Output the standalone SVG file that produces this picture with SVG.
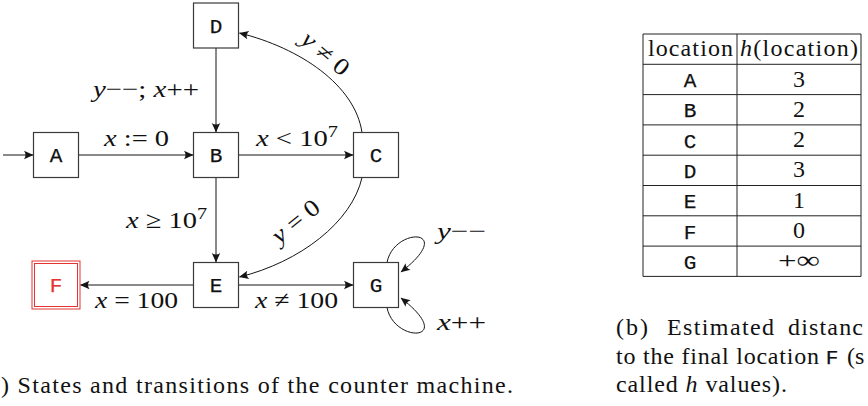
<svg xmlns="http://www.w3.org/2000/svg" width="868" height="406" viewBox="0 0 868 406">
<style>
.box{fill:none;stroke:#3a3a3a;stroke-width:1.2}
.fbox{fill:none;stroke:#e3342f;stroke-width:1}
.edge{fill:none;stroke:#151515;stroke-width:1;marker-end:url(#arr)}
.m{font-family:"Liberation Serif","Times New Roman",serif;font-size:24px;fill:#111}
.it{font-style:italic}
.tt{font-family:"Liberation Mono","Courier New",monospace;font-size:21px;fill:#111;text-anchor:middle;stroke:#111;stroke-width:0.25}
.ttr{font-family:"Liberation Mono","Courier New",monospace;font-size:21px;fill:#e3342f;text-anchor:middle;stroke:#e3342f;stroke-width:0.25}
.grid{stroke:#222;stroke-width:1;fill:none}
.c{text-anchor:middle}
</style>
<defs>
<marker id="arr" viewBox="-10 -5 11 10" refX="0" refY="0" markerWidth="11" markerHeight="10" markerUnits="userSpaceOnUse" orient="auto">
<path d="M0.5,0 L-9,-4.2 Q-6,0 -9,4.2 Z" fill="#151515"/>
</marker>
</defs>

<g id="connectors">
<path class="edge" d="M3,155 H33"/>
<path class="edge" d="M78.5,155 H193"/>
<path class="edge" d="M238.5,155 H353"/>
<path class="edge" d="M216,48 V132"/>
<path class="edge" d="M216,177.5 V262"/>
<path class="edge" d="M193.5,285 H80.5"/>
<path class="edge" d="M238.5,285 H353"/>
<path class="edge" d="M362,132.5 C355,85 300,48 239.5,33"/>
<path class="edge" d="M362,177.5 C352,222 300,262 239.5,277"/>
<path class="edge" d="M387,262.5 C394,226 458,228 401,272"/>
<path class="edge" d="M387,307.5 C394,344 458,342 401,298"/>
<text class="m" x="93" y="97" textLength="106" lengthAdjust="spacingAndGlyphs"><tspan class="it">y</tspan>−−; <tspan class="it">x</tspan>++</text>
<text class="m" x="104" y="146" textLength="65" lengthAdjust="spacingAndGlyphs"><tspan class="it">x</tspan> := 0</text>
<text class="m" x="256" y="146" textLength="82" lengthAdjust="spacingAndGlyphs"><tspan class="it">x</tspan> &lt; 10<tspan dy="-9" font-size="17">7</tspan></text>
<text class="m" x="126" y="228" textLength="81" lengthAdjust="spacingAndGlyphs"><tspan class="it">x</tspan> ≥ 10<tspan dy="-9" font-size="17">7</tspan></text>
<text class="m" x="95" y="308" textLength="83" lengthAdjust="spacingAndGlyphs"><tspan class="it">x</tspan> = 100</text>
<text class="m" x="255" y="308" textLength="83" lengthAdjust="spacingAndGlyphs"><tspan class="it">x</tspan> ≠ 100</text>
<text class="m" x="437" y="239" textLength="49" lengthAdjust="spacingAndGlyphs"><tspan class="it">y</tspan>−−</text>
<text class="m" x="437" y="330" textLength="49" lengthAdjust="spacingAndGlyphs"><tspan class="it">x</tspan>++</text>
<text class="m c" transform="translate(320.5,59.5) rotate(40)" textLength="55" lengthAdjust="spacingAndGlyphs"><tspan class="it">y</tspan> ≠ 0</text>
<text class="m c" transform="translate(300.5,227.5) rotate(-39)" textLength="55" lengthAdjust="spacingAndGlyphs"><tspan class="it">y</tspan> = 0</text>
</g>

<g id="node-A"><rect class="box" x="33.5" y="132.5" width="45" height="45"/><text class="tt" x="56" y="162">A</text></g>
<g id="node-B"><rect class="box" x="193.5" y="132.5" width="45" height="45"/><text class="tt" x="216" y="162">B</text></g>
<g id="node-C"><rect class="box" x="353.5" y="132.5" width="45" height="45"/><text class="tt" x="376" y="162">C</text></g>
<g id="node-D"><rect class="box" x="193.5" y="3" width="45" height="45"/><text class="tt" x="216" y="32.5">D</text></g>
<g id="node-E"><rect class="box" x="193.5" y="262.5" width="45" height="45"/><text class="tt" x="216" y="292">E</text></g>
<g id="node-F"><rect class="fbox" x="32" y="261" width="48" height="48"/><rect class="fbox" x="34.5" y="263.5" width="43" height="43"/><text class="ttr" x="56" y="292">F</text></g>
<g id="node-G"><rect class="box" x="353.5" y="262.5" width="45" height="45"/><text class="tt" x="376" y="292">G</text></g>

<text class="m" x="1" y="393" textLength="512" lengthAdjust="spacing">) States and transitions of the counter machine.</text>

<g id="table">
<path class="grid" d="M643,34 H861 M643,64.3 H861 M643,94.6 H861 M643,124.9 H861 M643,155.2 H861 M643,185.5 H861 M643,215.8 H861 M643,246.1 H861 M643,276.4 H861 M643,34 V276.4 M737,34 V276.4 M861,34 V276.4"/>
<text class="m" x="648" y="56" textLength="85" lengthAdjust="spacing">location</text>
<text class="m" x="740" y="56" textLength="118" lengthAdjust="spacing"><tspan class="it">h</tspan>(location)</text>
<text class="tt" x="690" y="87">A</text><text class="m c" x="799" y="86.5">3</text>
<text class="tt" x="690" y="117.3">B</text><text class="m c" x="799" y="116.8">2</text>
<text class="tt" x="690" y="147.6">C</text><text class="m c" x="799" y="147.1">2</text>
<text class="tt" x="690" y="177.9">D</text><text class="m c" x="799" y="177.4">3</text>
<text class="tt" x="690" y="208.2">E</text><text class="m c" x="799" y="207.7">1</text>
<text class="tt" x="690" y="238.5">F</text><text class="m c" x="799" y="238">0</text>
<text class="tt" x="690" y="268.8">G</text><text class="m c" x="799" y="268.3" textLength="42" lengthAdjust="spacingAndGlyphs">+∞</text>
</g>

<g id="caption-b">
<text class="m" x="616" y="335" textLength="32" lengthAdjust="spacing">(b)</text>
<text class="m" x="667" y="335" textLength="107" lengthAdjust="spacing">Estimated</text>
<text class="m" x="788" y="335" textLength="75" lengthAdjust="spacing">distanc</text>
<text class="m" x="616" y="363.5" textLength="203" lengthAdjust="spacing">to the final location</text>
<text class="tt" x="832" y="363.5">F</text>
<text class="m" x="847" y="363.5">(s</text>
<text class="m" x="616" y="392" textLength="171" lengthAdjust="spacing">called <tspan class="it">h</tspan> values).</text>
</g>
</svg>
